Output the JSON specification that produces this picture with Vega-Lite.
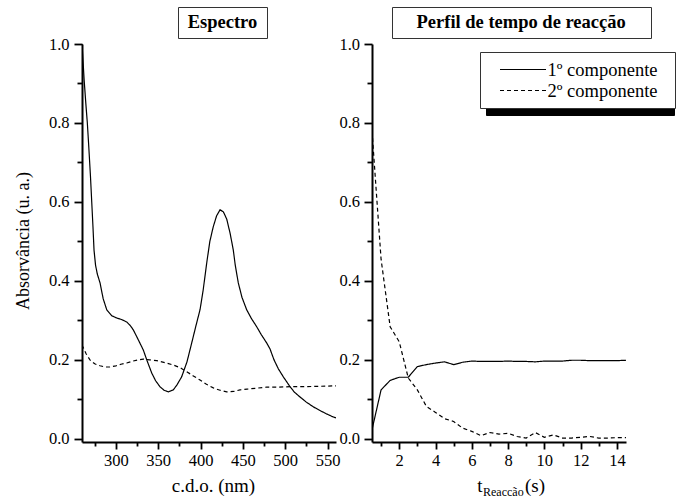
{
  "$schema": "https://vega.github.io/schema/vega-lite/v6.json",
  "padding": {"left": 14, "top": 6, "right": 0, "bottom": 0},
  "bounds": "flush",
  "spacing": 36,
  "config": {
    "font": "Liberation Serif",
    "view": {"stroke": null},
    "legend": {"labelFont": "Liberation Serif", "labelColor": "black", "orient": "none", "labelLimit": 500}
  },
  "resolve": {
    "scale": {"color": "independent", "strokeDash": "independent", "shape": "independent"},
    "legend": {"color": "independent", "strokeDash": "independent", "shape": "independent"}
  },
  "datasets": {
    "spec": [
      {"comp": "1º componente", "nm": 260, "A": 1.0},
      {"comp": "1º componente", "nm": 261, "A": 0.965},
      {"comp": "1º componente", "nm": 262.5, "A": 0.91},
      {"comp": "1º componente", "nm": 264.5, "A": 0.85},
      {"comp": "1º componente", "nm": 266.3, "A": 0.8},
      {"comp": "1º componente", "nm": 268, "A": 0.74},
      {"comp": "1º componente", "nm": 270, "A": 0.665},
      {"comp": "1º componente", "nm": 271.5, "A": 0.6},
      {"comp": "1º componente", "nm": 273, "A": 0.535},
      {"comp": "1º componente", "nm": 274.2, "A": 0.478},
      {"comp": "1º componente", "nm": 276, "A": 0.44},
      {"comp": "1º componente", "nm": 278, "A": 0.418},
      {"comp": "1º componente", "nm": 281.3, "A": 0.395},
      {"comp": "1º componente", "nm": 285, "A": 0.355},
      {"comp": "1º componente", "nm": 289.2, "A": 0.327},
      {"comp": "1º componente", "nm": 295, "A": 0.312},
      {"comp": "1º componente", "nm": 301, "A": 0.306},
      {"comp": "1º componente", "nm": 307, "A": 0.302},
      {"comp": "1º componente", "nm": 312.8, "A": 0.296},
      {"comp": "1º componente", "nm": 317, "A": 0.287},
      {"comp": "1º componente", "nm": 320.6, "A": 0.276},
      {"comp": "1º componente", "nm": 326, "A": 0.253},
      {"comp": "1º componente", "nm": 332.4, "A": 0.225},
      {"comp": "1º componente", "nm": 337, "A": 0.197},
      {"comp": "1º componente", "nm": 342.3, "A": 0.167},
      {"comp": "1º componente", "nm": 347, "A": 0.147},
      {"comp": "1º componente", "nm": 352.1, "A": 0.132},
      {"comp": "1º componente", "nm": 357, "A": 0.123},
      {"comp": "1º componente", "nm": 361.9, "A": 0.119},
      {"comp": "1º componente", "nm": 367.8, "A": 0.124},
      {"comp": "1º componente", "nm": 372, "A": 0.136},
      {"comp": "1º componente", "nm": 377.7, "A": 0.157},
      {"comp": "1º componente", "nm": 384, "A": 0.195},
      {"comp": "1º componente", "nm": 389.6, "A": 0.243},
      {"comp": "1º componente", "nm": 395, "A": 0.29},
      {"comp": "1º componente", "nm": 399.4, "A": 0.327},
      {"comp": "1º componente", "nm": 403, "A": 0.375},
      {"comp": "1º componente", "nm": 407.6, "A": 0.45},
      {"comp": "1º componente", "nm": 411, "A": 0.5},
      {"comp": "1º componente", "nm": 415, "A": 0.537},
      {"comp": "1º componente", "nm": 419, "A": 0.565},
      {"comp": "1º componente", "nm": 423, "A": 0.58},
      {"comp": "1º componente", "nm": 427, "A": 0.575},
      {"comp": "1º componente", "nm": 431, "A": 0.556},
      {"comp": "1º componente", "nm": 435, "A": 0.52},
      {"comp": "1º componente", "nm": 438.7, "A": 0.478},
      {"comp": "1º componente", "nm": 441, "A": 0.44},
      {"comp": "1º componente", "nm": 444.6, "A": 0.395},
      {"comp": "1º componente", "nm": 449, "A": 0.358},
      {"comp": "1º componente", "nm": 454.5, "A": 0.327},
      {"comp": "1º componente", "nm": 460, "A": 0.305},
      {"comp": "1º componente", "nm": 466.3, "A": 0.284},
      {"comp": "1º componente", "nm": 472, "A": 0.263},
      {"comp": "1º componente", "nm": 478.1, "A": 0.243},
      {"comp": "1º componente", "nm": 482, "A": 0.228},
      {"comp": "1º componente", "nm": 486.8, "A": 0.2},
      {"comp": "1º componente", "nm": 492, "A": 0.177},
      {"comp": "1º componente", "nm": 497.8, "A": 0.157},
      {"comp": "1º componente", "nm": 505.7, "A": 0.132},
      {"comp": "1º componente", "nm": 511, "A": 0.118},
      {"comp": "1º componente", "nm": 517.5, "A": 0.106},
      {"comp": "1º componente", "nm": 525, "A": 0.093},
      {"comp": "1º componente", "nm": 533.2, "A": 0.081},
      {"comp": "1º componente", "nm": 540, "A": 0.073},
      {"comp": "1º componente", "nm": 548, "A": 0.064},
      {"comp": "1º componente", "nm": 555, "A": 0.057},
      {"comp": "1º componente", "nm": 560, "A": 0.053},
      {"comp": "2º componente", "nm": 260, "A": 0.238},
      {"comp": "2º componente", "nm": 261, "A": 0.233},
      {"comp": "2º componente", "nm": 265, "A": 0.215},
      {"comp": "2º componente", "nm": 269.4, "A": 0.2},
      {"comp": "2º componente", "nm": 275, "A": 0.19},
      {"comp": "2º componente", "nm": 281.3, "A": 0.185},
      {"comp": "2º componente", "nm": 287, "A": 0.182},
      {"comp": "2º componente", "nm": 293, "A": 0.182},
      {"comp": "2º componente", "nm": 300, "A": 0.185},
      {"comp": "2º componente", "nm": 306, "A": 0.189},
      {"comp": "2º componente", "nm": 312.8, "A": 0.192},
      {"comp": "2º componente", "nm": 320, "A": 0.197},
      {"comp": "2º componente", "nm": 326, "A": 0.2},
      {"comp": "2º componente", "nm": 332.4, "A": 0.202},
      {"comp": "2º componente", "nm": 340, "A": 0.2},
      {"comp": "2º componente", "nm": 348.2, "A": 0.198},
      {"comp": "2º componente", "nm": 358, "A": 0.193},
      {"comp": "2º componente", "nm": 367.8, "A": 0.187},
      {"comp": "2º componente", "nm": 376, "A": 0.18},
      {"comp": "2º componente", "nm": 383.7, "A": 0.17},
      {"comp": "2º componente", "nm": 391, "A": 0.16},
      {"comp": "2º componente", "nm": 399.4, "A": 0.149},
      {"comp": "2º componente", "nm": 407, "A": 0.138},
      {"comp": "2º componente", "nm": 415.1, "A": 0.129},
      {"comp": "2º componente", "nm": 423, "A": 0.123},
      {"comp": "2º componente", "nm": 431, "A": 0.119},
      {"comp": "2º componente", "nm": 439, "A": 0.12},
      {"comp": "2º componente", "nm": 446.6, "A": 0.124},
      {"comp": "2º componente", "nm": 455, "A": 0.126},
      {"comp": "2º componente", "nm": 465, "A": 0.128},
      {"comp": "2º componente", "nm": 478.1, "A": 0.131},
      {"comp": "2º componente", "nm": 490, "A": 0.131},
      {"comp": "2º componente", "nm": 505.7, "A": 0.132},
      {"comp": "2º componente", "nm": 520, "A": 0.132},
      {"comp": "2º componente", "nm": 540, "A": 0.133},
      {"comp": "2º componente", "nm": 556.8, "A": 0.134},
      {"comp": "2º componente", "nm": 560, "A": 0.134}
    ],
    "kin": [
      {"comp": "1º componente", "t": 0.5, "A": 0.023},
      {"comp": "1º componente", "t": 1.0, "A": 0.124},
      {"comp": "1º componente", "t": 1.5, "A": 0.148},
      {"comp": "1º componente", "t": 2.0, "A": 0.156},
      {"comp": "1º componente", "t": 2.5, "A": 0.156},
      {"comp": "1º componente", "t": 3.0, "A": 0.183},
      {"comp": "1º componente", "t": 3.5, "A": 0.188},
      {"comp": "1º componente", "t": 4.0, "A": 0.192},
      {"comp": "1º componente", "t": 4.5, "A": 0.195},
      {"comp": "1º componente", "t": 5.0, "A": 0.188},
      {"comp": "1º componente", "t": 5.5, "A": 0.194},
      {"comp": "1º componente", "t": 6.0, "A": 0.197},
      {"comp": "1º componente", "t": 6.5, "A": 0.196},
      {"comp": "1º componente", "t": 7.0, "A": 0.196},
      {"comp": "1º componente", "t": 7.5, "A": 0.196},
      {"comp": "1º componente", "t": 8.0, "A": 0.197},
      {"comp": "1º componente", "t": 8.5, "A": 0.196},
      {"comp": "1º componente", "t": 9.0, "A": 0.196},
      {"comp": "1º componente", "t": 9.5, "A": 0.195},
      {"comp": "1º componente", "t": 10.0, "A": 0.197},
      {"comp": "1º componente", "t": 10.5, "A": 0.197},
      {"comp": "1º componente", "t": 11.0, "A": 0.197},
      {"comp": "1º componente", "t": 11.5, "A": 0.199},
      {"comp": "1º componente", "t": 12.0, "A": 0.199},
      {"comp": "1º componente", "t": 12.5, "A": 0.198},
      {"comp": "1º componente", "t": 13.0, "A": 0.198},
      {"comp": "1º componente", "t": 13.5, "A": 0.198},
      {"comp": "1º componente", "t": 14.0, "A": 0.198},
      {"comp": "1º componente", "t": 14.5, "A": 0.199},
      {"comp": "2º componente", "t": 0.5, "A": 0.78},
      {"comp": "2º componente", "t": 1.0, "A": 0.455},
      {"comp": "2º componente", "t": 1.5, "A": 0.284},
      {"comp": "2º componente", "t": 2.0, "A": 0.246},
      {"comp": "2º componente", "t": 2.5, "A": 0.154},
      {"comp": "2º componente", "t": 3.0, "A": 0.124},
      {"comp": "2º componente", "t": 3.5, "A": 0.082},
      {"comp": "2º componente", "t": 4.0, "A": 0.067},
      {"comp": "2º componente", "t": 4.5, "A": 0.051},
      {"comp": "2º componente", "t": 5.0, "A": 0.044},
      {"comp": "2º componente", "t": 5.5, "A": 0.027},
      {"comp": "2º componente", "t": 6.0, "A": 0.019},
      {"comp": "2º componente", "t": 6.5, "A": 0.008},
      {"comp": "2º componente", "t": 7.0, "A": 0.016},
      {"comp": "2º componente", "t": 7.5, "A": 0.012},
      {"comp": "2º componente", "t": 8.0, "A": 0.014},
      {"comp": "2º componente", "t": 8.5, "A": 0.006},
      {"comp": "2º componente", "t": 9.0, "A": 0.002},
      {"comp": "2º componente", "t": 9.5, "A": 0.016},
      {"comp": "2º componente", "t": 10.0, "A": 0.004},
      {"comp": "2º componente", "t": 10.5, "A": 0.01},
      {"comp": "2º componente", "t": 11.0, "A": 0.002},
      {"comp": "2º componente", "t": 11.5, "A": 0.002},
      {"comp": "2º componente", "t": 12.0, "A": 0.004},
      {"comp": "2º componente", "t": 12.5, "A": 0.006},
      {"comp": "2º componente", "t": 13.0, "A": 0.002},
      {"comp": "2º componente", "t": 13.5, "A": 0.002},
      {"comp": "2º componente", "t": 14.0, "A": 0.003},
      {"comp": "2º componente", "t": 14.5, "A": 0.003}
    ],
    "shadowKeys": [{"k": "s1"}, {"k": "s2"}],
    "one": [{"d": 1}]
  },
  "hconcat": [
    {
      "width": 254,
      "height": 398,
      "layer": [
        {
          "data": {"name": "spec"},
          "mark": {"type": "line", "color": "black", "strokeWidth": 1.2, "clip": true},
          "encoding": {
            "x": {
              "field": "nm", "type": "quantitative",
              "scale": {"domain": [260, 560], "nice": false, "zero": false},
              "axis": {"orient": "bottom", "values": [275, 300, 325, 350, 375, 400, 425, 450, 475, 500, 525, 550], "format": "d", "grid": false,
                       "labelExpr": "datum.value % 50 === 0 ? datum.label : ''",
                       "ticks": true, "tickSize": {"condition": {"test": "datum.value % 50 === 0", "value": 7}, "value": 4},
                       "tickWidth": 1.8, "tickColor": "black", "tickOpacity": 1,
                       "domain": true, "domainColor": "black", "domainWidth": 2,
                       "labelFont": "Liberation Serif", "labelFontSize": 16.5, "labelColor": "black", "labelPadding": 3,
                       "title": "c.d.o. (nm)", "titleFont": "Liberation Serif", "titleFontSize": 19, "titleFontWeight": "normal", "titleColor": "black",
                       "titleX": 131, "titleY": 49.5, "titleBaseline": "alphabetic", "titleAlign": "center"}
            },
            "y": {
              "field": "A", "type": "quantitative",
              "scale": {"domain": [-0.008, 1.0], "nice": false, "zero": false},
              "axis": {"orient": "left", "values": [0, 0.1, 0.2, 0.3, 0.4, 0.5, 0.6, 0.7, 0.8, 0.9, 1.0], "format": ".1f", "grid": false,
                       "labelExpr": "round(datum.value * 10) % 2 === 0 ? datum.label : ''",
                       "ticks": true, "tickSize": {"condition": {"test": "round(datum.value * 10) % 2 === 0", "value": 8}, "value": 5},
                       "tickWidth": 1.8, "tickColor": "black", "tickOpacity": 1,
                       "domain": true, "domainColor": "black", "domainWidth": 2,
                       "labelFont": "Liberation Serif", "labelFontSize": 16.5, "labelColor": "black", "labelPadding": 5,
                       "title": "Absorvância (u. a.)", "titleFont": "Liberation Serif", "titleFontSize": 18, "titleFontWeight": "normal", "titleColor": "black",
                       "titleX": -54, "titleY": 196.5, "titleBaseline": "alphabetic", "titleAlign": "center", "titleAngle": 270}
            },
            "strokeDash": {
              "field": "comp", "type": "nominal",
              "scale": {"domain": ["1º componente", "2º componente"], "range": [[1, 0], [4, 3]]},
              "legend": null
            }
          }
        },
        {
          "data": {"name": "one"},
          "mark": {"type": "point", "opacity": 0},
          "encoding": {
            "color": {
              "datum": "Espectro",
              "scale": {"range": ["black"]},
              "legend": {"title": null, "orient": "none", "legendX": 96, "legendY": -37, "symbolSize": 1, "symbolOpacity": 0, "symbolStrokeWidth": 0,
                         "labelOffset": -18.5, "labelFontSize": 18.5, "labelFontWeight": "bold", "padding": 6, "strokeColor": "#333", "fillColor": "white",
                         "labelExpr": "'\u200b\u2009' + datum.label + '\u2009\u200b'"}
            }
          }
        }
      ]
    },
    {
      "width": 254,
      "height": 398,
      "layer": [
        {
          "data": {"name": "kin"},
          "mark": {"type": "line", "color": "black", "strokeWidth": 1.2, "clip": true},
          "encoding": {
            "x": {
              "field": "t", "type": "quantitative",
              "scale": {"domain": [0.5, 14.5], "nice": false, "zero": false},
              "axis": {"orient": "bottom", "values": [1, 2, 3, 4, 5, 6, 7, 8, 9, 10, 11, 12, 13, 14], "format": "d", "grid": false,
                       "labelExpr": "datum.value % 2 === 0 ? datum.label : ''",
                       "ticks": true, "tickSize": {"condition": {"test": "datum.value % 2 === 0", "value": 7}, "value": 4},
                       "tickWidth": 1.8, "tickColor": "black", "tickOpacity": 1,
                       "domain": true, "domainColor": "black", "domainWidth": 2,
                       "labelFont": "Liberation Serif", "labelFontSize": 16.5, "labelColor": "black", "labelPadding": 3,
                       "title": "t", "titleFont": "Liberation Serif", "titleFontSize": 19, "titleFontWeight": "normal", "titleColor": "black",
                       "titleX": 104.7, "titleY": 49.5, "titleBaseline": "alphabetic", "titleAlign": "left"}
            },
            "y": {
              "field": "A", "type": "quantitative",
              "scale": {"domain": [-0.008, 1.0], "nice": false, "zero": false},
              "axis": {"orient": "left", "values": [0, 0.1, 0.2, 0.3, 0.4, 0.5, 0.6, 0.7, 0.8, 0.9, 1.0], "format": ".1f", "grid": false,
                       "labelExpr": "round(datum.value * 10) % 2 === 0 ? datum.label : ''",
                       "ticks": true, "tickSize": {"condition": {"test": "round(datum.value * 10) % 2 === 0", "value": 8}, "value": 5},
                       "tickWidth": 1.8, "tickColor": "black", "tickOpacity": 1,
                       "domain": true, "domainColor": "black", "domainWidth": 2,
                       "labelFont": "Liberation Serif", "labelFontSize": 16.5, "labelColor": "black", "labelPadding": 4.5, "title": null}
            },
            "strokeDash": {
              "field": "comp", "type": "nominal",
              "scale": {"domain": ["1º componente", "2º componente"], "range": [[1, 0], [4, 3]]},
              "legend": {"title": null, "orient": "none", "legendX": 108, "legendY": 8, "symbolType": "M-2.706,0H2.706", "symbolSize": 289,
                         "symbolStrokeColor": "black", "symbolStrokeWidth": 1.2, "symbolOffset": 25.5, "labelOffset": 15,
                         "labelFontSize": 18.5, "padding": 8, "rowPadding": 2, "strokeColor": "#333", "fillColor": "white", "zindex": 2,
                         "labelExpr": "datum.label + '\u00a0\u00a0\u200b'"}
            }
          }
        },
        {
          "data": {"name": "kin"},
          "mark": {"type": "point", "opacity": 0},
          "encoding": {
            "x": {"field": "t", "type": "quantitative",
                  "axis": {"orient": "bottom", "grid": false, "ticks": false, "labels": false, "domain": false,
                           "title": "Reaccão", "titleFont": "Liberation Serif", "titleFontSize": 12, "titleFontWeight": "normal", "titleColor": "black",
                           "titleX": 110.5, "titleY": 53, "titleBaseline": "alphabetic", "titleAlign": "left"}}
          }
        },
        {
          "data": {"name": "kin"},
          "mark": {"type": "point", "opacity": 0},
          "encoding": {
            "x": {"field": "t", "type": "quantitative",
                  "axis": {"orient": "bottom", "grid": false, "ticks": false, "labels": false, "domain": false,
                           "title": "(s)", "titleFont": "Liberation Serif", "titleFontSize": 19, "titleFontWeight": "normal", "titleColor": "black",
                           "titleX": 152.5, "titleY": 49.5, "titleBaseline": "alphabetic", "titleAlign": "left"}}
          }
        },
        {
          "data": {"name": "shadowKeys"},
          "mark": {"type": "point", "opacity": 0},
          "encoding": {
            "shape": {
              "field": "k", "type": "nominal",
              "scale": {"domain": ["s1", "s2"], "range": ["M-2.706,0H2.706", "M-2.706,0H2.706"]},
              "legend": {"title": null, "orient": "none", "legendX": 114, "legendY": 15, "symbolSize": 289,
                         "symbolStrokeColor": "black", "symbolFillColor": "black", "symbolStrokeWidth": 1.2, "symbolOffset": 25.5, "labelOffset": 127.5,
                         "labelFontSize": 18.5, "padding": 8, "rowPadding": 2, "strokeColor": "black", "fillColor": "black", "labelColor": "black", "zindex": 1,
                         "labelExpr": "'\u200b'"}
            }
          }
        },
        {
          "data": {"name": "one"},
          "mark": {"type": "point", "opacity": 0},
          "encoding": {
            "color": {
              "datum": "Perfil de tempo de reacção",
              "scale": {"range": ["black"]},
              "legend": {"title": null, "orient": "none", "legendX": 20, "legendY": -37, "symbolSize": 1, "symbolOpacity": 0, "symbolStrokeWidth": 0,
                         "labelOffset": -18.5, "labelFontSize": 18.5, "labelFontWeight": "bold", "padding": 6, "strokeColor": "#333", "fillColor": "white",
                         "labelExpr": "'\u200b\u00a0\u00a0\u00a0\u00a0' + datum.label + '\u00a0\u00a0\u00a0\u00a0\u200b'"}
            }
          }
        }
      ],
      "resolve": {"axis": {"x": "independent"}}
    }
  ]
}
